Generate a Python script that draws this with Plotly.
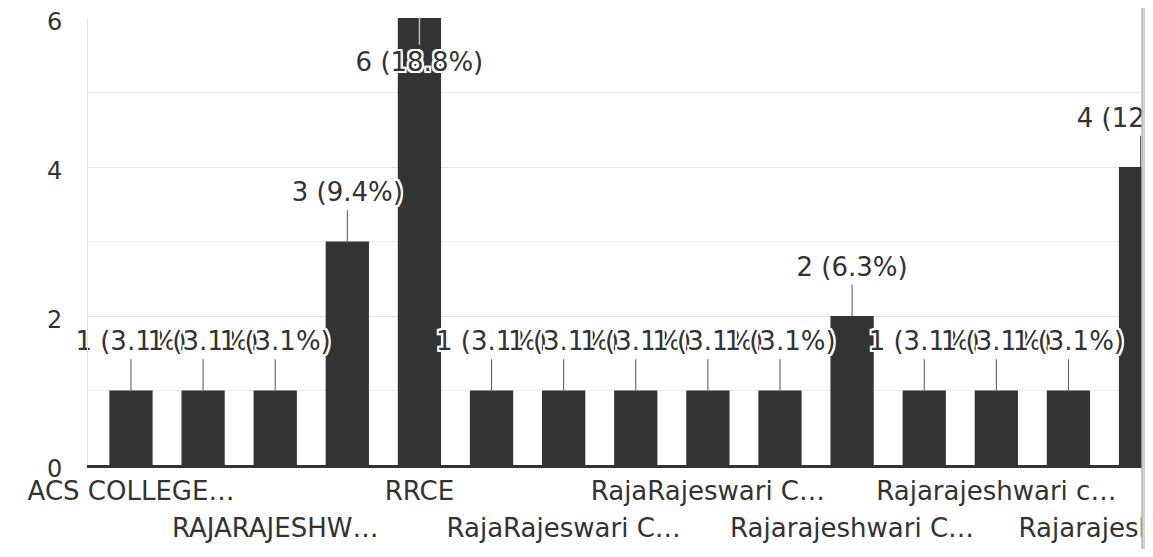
import math
import plotly.graph_objects as go

# ---- data ----
categories = [
    "ACS College of Engineering",
    "AMC Engineering College",
    "RAJARAJESHWARI COLLEGE OF ENGINEERING",
    "RajaRajeswari College of Engineering (RRCE)",
    "RRCE",
    "RR College of Engineering",
    "RajaRajeswari College Of Engineering",
    "RajaRajeswari college of engineering",
    "RajaRajeswari College of Engg",
    "Rajarajeswari College",
    "Rajarajeshwari College of Engineering",
    "Rajarajeshwari College Of Engg",
    "Rajarajeshwari college of engineering",
    "Rajarajeshwari college",
    "Rajarajeshwari College of Engineering, Bangalore",
]
values = [1, 1, 1, 3, 6, 1, 1, 1, 1, 1, 2, 1, 1, 1, 4]
tick_labels = [
    "ACS COLLEGE…", "", "RAJARAJESHW…", "", "RRCE", "",
    "RajaRajeswari C…", "", "RajaRajeswari C…", "",
    "Rajarajeshwari C…", "", "Rajarajeshwari c…", "", "Rajarajeshwari C…",
]
total_responses = 32
y_ticks = [0, 2, 4, 6]

# ---- styling ----
FONT = "DejaVu Sans"
TXT = "#333333"
BAR = "#333333"
Y_MAX = 6
PAGE_OFFSET = 8                     # default body margin of the html page
W, H = 1153 - PAGE_OFFSET, 557 - 2 * PAGE_OFFSET
M_L, M_R, M_T = 88 - PAGE_OFFSET, 11, 18 - PAGE_OFFSET
AXIS_PX = 465 - PAGE_OFFSET         # pixel row of the value axis baseline
LABEL_ROWS_PX = [493 - PAGE_OFFSET, 530 - PAGE_OFFSET]
plot_h = H - M_T
dom_split = (H - AXIS_PX) / plot_h

halo = ", ".join(f"{dx}px {dy}px 0 #ffffff" for dx in (-2, 0, 2) for dy in (-2, 0, 2) if dx or dy)

def pct(v):
    return math.floor(v / total_responses * 1000 + 0.5) / 10

labels = [f"{v} ({pct(v):.1f}%)" for v in values]

fig = go.Figure()
fig.add_trace(go.Bar(x=categories, y=values, marker=dict(color=BAR, line=dict(width=0)),
                     width=0.6, hoverinfo="skip"))

# leader lines and label positions
out_x, out_y, in_x, in_y, lab_y = [], [], [], [], []
for c, v in zip(categories, values):
    if v + 0.75 > Y_MAX:
        in_x += [c, c, None]
        in_y += [v, v - 0.36, None]
        lab_y.append(v - 0.62)
    else:
        out_x += [c, c, None]
        out_y += [v, v + 0.42, None]
        lab_y.append(v + 0.63)

fig.add_trace(go.Scatter(x=out_x, y=out_y, mode="lines", line=dict(color="#555555", width=1),
                         hoverinfo="skip"))
fig.add_trace(go.Scatter(x=in_x, y=in_y, mode="lines", line=dict(color="#bbbbbb", width=1.5),
                         hoverinfo="skip"))
fig.add_trace(go.Scatter(x=categories, y=lab_y, mode="text", text=labels,
                         textposition="middle center", cliponaxis=False,
                         textfont=dict(family=FONT, size=26, color=TXT, shadow=halo),
                         hoverinfo="skip"))

# staggered category labels in a strip below the axis
shown = [(c, t) for c, t in zip(categories, tick_labels) if t]
fig.add_trace(go.Scatter(x=[c for c, _ in shown],
                         y=[H - LABEL_ROWS_PX[k % 2] for k in range(len(shown))],
                         mode="text", text=[t for _, t in shown],
                         textposition="middle center", cliponaxis=False,
                         textfont=dict(family=FONT, size=26, color=TXT),
                         xaxis="x2", yaxis="y2", hoverinfo="skip"))

fig.update_layout(
    width=W, height=H,
    margin=dict(l=M_L, r=M_R, t=M_T, b=0),
    paper_bgcolor="white", plot_bgcolor="white",
    showlegend=False,
    font=dict(family=FONT, size=24, color=TXT),
    xaxis=dict(type="category", range=[-0.596, 14.02], showticklabels=False, ticks="",
               showgrid=False, showline=True, linecolor="#333333", linewidth=2.5,
               zeroline=False, fixedrange=True, automargin=False, anchor="y"),
    yaxis=dict(domain=[dom_split, 1], range=[0, Y_MAX], tickvals=y_ticks, ticks="",
               ticklabelstandoff=20, ticklabelshift=4, ticklabeloverflow="allow",
               showgrid=True, gridcolor="#e2e2e2", gridwidth=1,
               minor=dict(dtick=1, showgrid=True, gridcolor="#ececec"),
               showline=True, linecolor="#e2e2e2", zeroline=False, fixedrange=True,
               automargin=False, anchor="x",
               tickfont=dict(family=FONT, size=24, color=TXT)),
    xaxis2=dict(type="category", matches="x", anchor="y2", visible=False,
                fixedrange=True, automargin=False),
    yaxis2=dict(domain=[0, dom_split], range=[0, H - AXIS_PX], anchor="x2",
                visible=False, fixedrange=True, automargin=False),
    shapes=[dict(type="rect", xref="paper", yref="paper", x0=1.0, x1=1.03, y0=-0.2, y1=1.1,
                 fillcolor="#d2d2d2", line=dict(width=0), layer="above"),
            dict(type="line", xref="paper", yref="paper", x0=1.0, x1=1.0, y0=-0.2, y1=1.1,
                 line=dict(color="#b8b8b8", width=1.5), layer="above")],
)

fig.write_html("out.html")
